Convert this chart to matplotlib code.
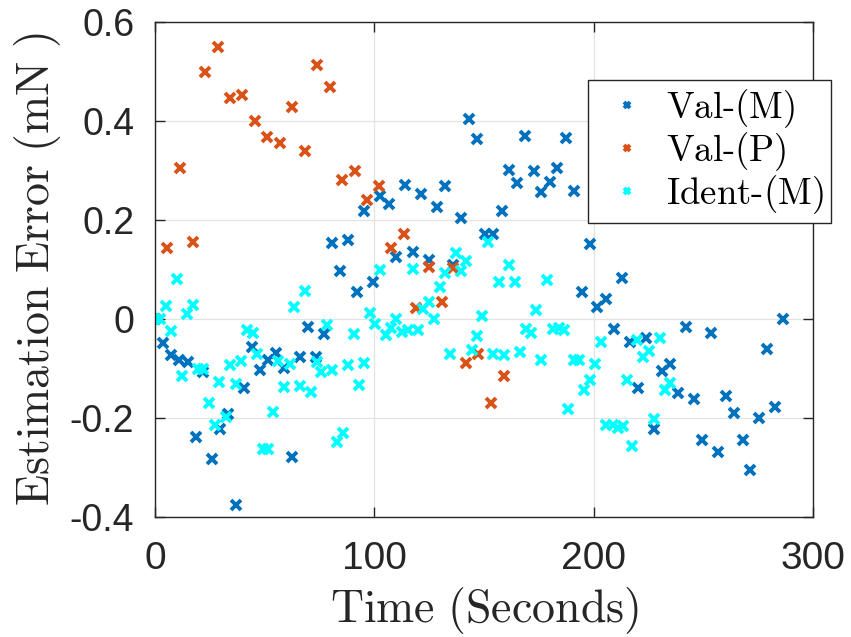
import matplotlib
matplotlib.use("Agg")
import matplotlib.pyplot as plt

# ---- data ----
valm_x = [0, 3.8, 7.3, 11.1, 14.9, 18.5, 22.0, 25.8, 29.6, 33.1, 36.9, 40.7, 44.2, 47.8, 51.6,
          55.1, 58.8, 62.6, 66.1, 69.8, 73.4, 77.1, 80.8, 84.3, 88.1, 91.9, 95.5, 99.2, 102.8,
          106.6, 110.1, 113.9, 117.5, 121.2, 124.8, 128.5, 132.1, 135.9, 139.4, 143.2, 146.7,
          150.3, 154.1, 158.0, 161.6, 165.2, 168.9, 172.7, 176.2, 180.0, 183.5, 187.2, 190.9,
          194.5, 198.2, 201.7, 205.5, 209.1, 212.9, 216.4, 220.2, 224.0, 227.5, 231.1, 234.9,
          238.6, 242.2, 245.9, 249.5, 253.3, 256.6, 260.5, 264.2, 268.0, 271.5, 275.3, 279.0,
          282.8, 286.2]
valm_y = [0, -0.048, -0.073, -0.083, -0.087, -0.239, -0.108, -0.283, -0.222, -0.192, -0.376,
          -0.139, -0.056, -0.103, -0.083, -0.068, -0.098, -0.278, -0.076, -0.017, -0.077, -0.031,
          0.153, 0.096, 0.160, 0.054, 0.219, 0.075, 0.248, 0.232, 0.125, 0.271, 0.135, 0.252,
          0.119, 0.227, 0.269, 0.110, 0.205, 0.405, 0.364, 0.172, 0.172, 0.219, 0.302, 0.275,
          0.370, 0.300, 0.257, 0.277, 0.306, 0.365, 0.258, 0.054, 0.151, 0.024, 0.040, -0.020,
          0.083, -0.047, -0.140, -0.039, -0.222, -0.106, -0.091, -0.149, -0.016, -0.162, -0.244,
          -0.028, -0.269, -0.155, -0.189, -0.244, -0.305, -0.199, -0.060, -0.178, 0.001]

valp_x = [0, 5.6, 11.4, 17.2, 22.8, 28.6, 34.2, 39.8, 45.6, 51.2, 56.9, 62.6, 68.3, 73.7, 79.7,
          85.3, 91.0, 96.7, 102.2, 107.8, 113.6, 118.9, 125.0, 130.8, 135.9, 142.0, 147.3,
          153.4, 159.0]
valp_y = [0, 0.144, 0.306, 0.156, 0.498, 0.549, 0.446, 0.453, 0.399, 0.367, 0.355, 0.428, 0.340,
          0.513, 0.468, 0.281, 0.299, 0.240, 0.269, 0.144, 0.172, 0.022, 0.105, 0.034, 0.103,
          -0.088, -0.071, -0.170, -0.115]

ident_x = [0, 2.3, 5.0, 7.3, 9.9, 12.2, 14.7, 17.2, 19.7, 22.0, 24.5, 27.3, 29.3, 32.3, 34.2,
           36.8, 39.2, 41.8, 44.5, 46.6, 49.3, 51.3, 53.9, 56.2, 58.8, 61.5, 63.5, 66.1, 68.3,
           71.1, 73.7, 75.9, 78.4, 80.8, 83.2, 85.8, 88.1, 90.7, 93.1, 95.4, 98.0, 100.5, 102.8,
           105.2, 107.8, 110.1, 112.8, 115.4, 117.7, 120.0, 122.2, 124.8, 127.2, 129.8, 132.1,
           134.7, 137.1, 139.4, 142.0, 144.6, 146.8, 149.3, 151.8, 154.1, 156.7, 159.0, 161.4,
           164.0, 166.3, 169.0, 171.3, 173.7, 176.2, 178.7, 181.5, 184.2, 186.5, 188.3, 190.9,
           193.3, 195.6, 198.2, 200.5, 203.2, 205.8, 208.8, 211.1, 213.3, 215.4, 217.6, 219.7,
           222.5, 225.2, 227.5, 230.1, 232.3, 234.6]
ident_y = [0, 0, 0.026, -0.024, 0.081, -0.115, 0.010, 0.028, -0.100, -0.100, -0.170, -0.214,
           -0.127, -0.197, -0.092, -0.132, -0.085, -0.022, -0.029, -0.071, -0.263, -0.263,
           -0.188, -0.085, -0.137, -0.091, 0.024, -0.135, 0.057, -0.148, -0.086, -0.108, -0.012,
           -0.104, -0.249, -0.231, -0.092, -0.030, -0.134, -0.088, 0.012, -0.010, 0.100, -0.032,
           -0.019, -0.001, -0.026, -0.022, 0.101, -0.022, 0.020, 0.035, -0.001, 0.065, 0.092,
           -0.071, 0.133, 0.096, 0.117, -0.063, -0.034, 0.006, 0.156, -0.071, 0.075, -0.073,
           0.110, 0.075, -0.066, -0.020, -0.029, 0.018, -0.083, 0.079, -0.020, -0.019, -0.022,
           -0.182, -0.083, -0.083, -0.143, -0.123, -0.091, -0.046, -0.214, -0.214, -0.220,
           -0.216, -0.123, -0.256, -0.042, -0.077, -0.064, -0.202, -0.039, -0.143, -0.130]

labels = ["Val-(M)", "Val-(P)", "Ident-(M)"]
colors = ["#0072BD", "#D95319", "#00FFFF"]
xticks = [0, 100, 200, 300]
yticks = [-0.4, -0.2, 0, 0.2, 0.4, 0.6]
ytick_labels = ["-0.4", "-0.2", "0", "0.2", "0.4", "0.6"]

plt.rcParams["mathtext.fontset"] = "cm"
plt.rcParams["axes.unicode_minus"] = False

fig = plt.figure(figsize=(8.51, 6.37), dpi=100)
ax = fig.add_axes([155 / 851, 1 - 517 / 637, 658 / 851, 495 / 637])

series = [(valm_x, valm_y), (valp_x, valp_y), (ident_x, ident_y)]
for (xs, ys), lab, c in zip(series, labels, colors):
    ax.plot(xs, ys, linestyle="none", marker="x", markersize=7.5, markeredgewidth=2.8,
            color=c, label=r"$\text{%s}$" % lab)

ax.set_xlim(0, 300)
ax.set_ylim(-0.4, 0.6)
ax.set_xticks(xticks)
ax.set_yticks(yticks)
ax.set_yticklabels(ytick_labels)
ax.grid(True, color="#e3e3e3", linewidth=0.9)
ax.set_axisbelow(True)

axcol = "#262626"
for s in ax.spines.values():
    s.set_color(axcol)
    s.set_linewidth(1.0)
ax.tick_params(direction="in", length=7, width=1.0, colors=axcol, top=True, right=True,
               labelsize=27)
ax.tick_params(axis="x", pad=17, labelsize=28)
ax.tick_params(axis="y", pad=15)
for t in ax.get_xticklabels() + ax.get_yticklabels():
    t.set_fontfamily("Liberation Sans")

ax.set_xlabel(r"$\mathrm{Time\ (Seconds)}$", fontsize=33, color=axcol, labelpad=6)
ax.set_ylabel(r"$\mathrm{Estimation\ Error\ (mN\ )}$", fontsize=33, color=axcol, labelpad=5)

leg = ax.legend(loc="upper left", bbox_to_anchor=(0.658, 0.883), fontsize=26.5,
                frameon=True, fancybox=False, framealpha=1, edgecolor=axcol,
                markerscale=0.6, handlelength=1.74, handletextpad=0.17,
                borderpad=0.2, labelspacing=0.0, borderaxespad=0)
leg.get_frame().set_linewidth(1.0)

fig.savefig("out.png", dpi=100)
